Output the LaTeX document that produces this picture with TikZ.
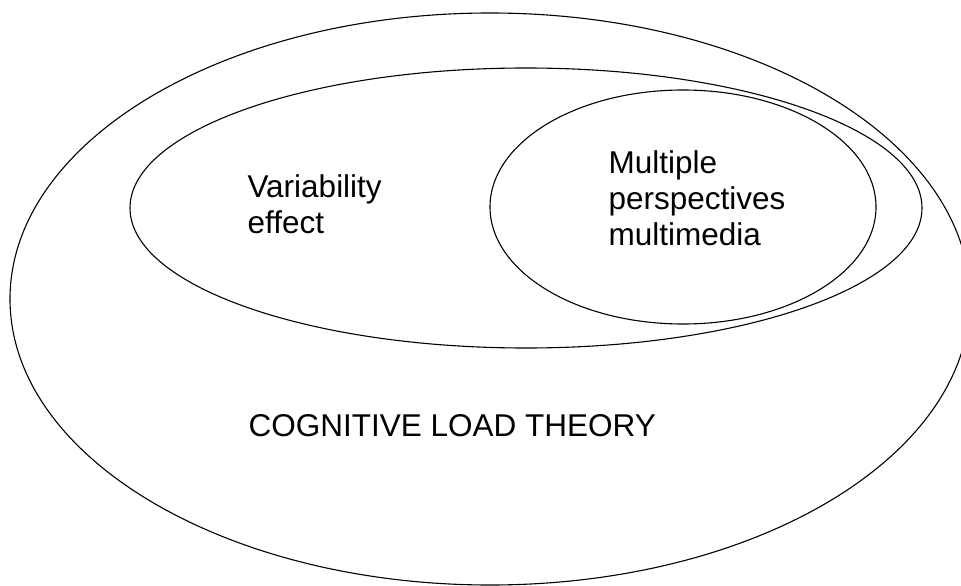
\documentclass[tikz,border=0pt]{standalone}
\usepackage{fontspec}
\setmainfont{Liberation Sans}
\usepackage{tikz}

\begin{document}
\begin{tikzpicture}[x=1pt,y=-1pt,line width=1.1pt]
\useasboundingbox (0,0) rectangle (961,586);
\tikzset{lbl/.style={inner sep=0pt,anchor=base west,align=left,font=\fontsize{31.5}{36}\selectfont}}
\draw[black] (490,299) ellipse (480 and 286);
\draw[black] (526,208) ellipse (396 and 140);
\draw[black] (683,207) ellipse (193 and 117);
\node[lbl] (V) at (247,233) {Variability\\effect};
\node[lbl] (M) at (608,245) {Multiple\\perspectives\\multimedia};
\node[lbl] (C) at (248,436.5) {COGNITIVE LOAD THEORY};
\end{tikzpicture}
\end{document}
